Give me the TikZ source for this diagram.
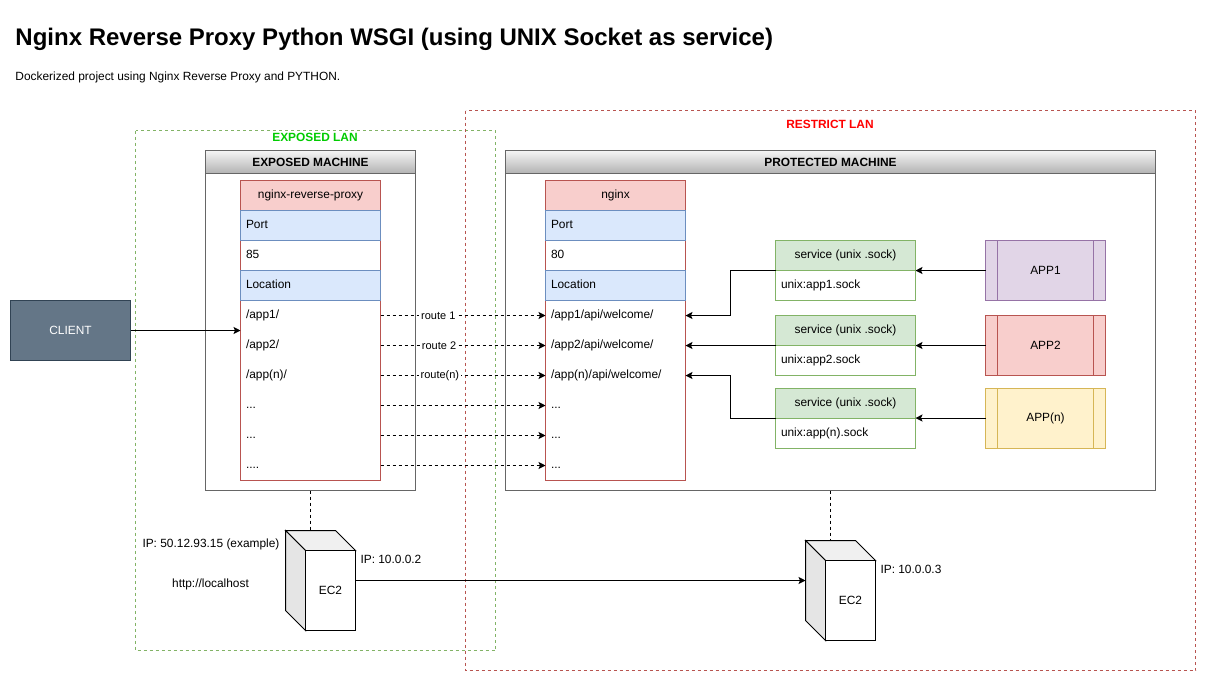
\documentclass[tikz,border=0pt]{standalone}
\usepackage{fontspec}
\setmainfont{Liberation Sans}
\usetikzlibrary{arrows.meta}
\definecolor{redline}{HTML}{B85450}
\definecolor{redfill}{HTML}{F8CECC}
\definecolor{blueline}{HTML}{6C8EBF}
\definecolor{bluefill}{HTML}{DAE8FC}
\definecolor{greenline}{HTML}{82B366}
\definecolor{greenfill}{HTML}{D5E8D4}
\definecolor{purpleline}{HTML}{9673A6}
\definecolor{purplefill}{HTML}{E1D5E7}
\definecolor{yellowline}{HTML}{D6B656}
\definecolor{yellowfill}{HTML}{FFF2CC}
\definecolor{clientline}{HTML}{314354}
\definecolor{clientfill}{HTML}{647687}
\definecolor{machineline}{HTML}{666666}
\tikzset{
	plainfont/.style={font=\fontsize{11.9}{14}\selectfont},
	plaintext/.style={plainfont, inner sep=0pt},
	lantitle/.style={font=\fontsize{11.9}{14}\selectfont\bfseries, inner sep=0pt},
	lanbox/.style={dashed, dash pattern=on 3pt off 3pt},
	machinebox/.style={draw=machineline, fill=white, outer sep=0pt, inner sep=0pt},
	machinehead/.style={draw=machineline, top color=black!4, bottom color=black!30, minimum height=23pt, outer sep=0pt, inner sep=0pt, font=\fontsize{11.9}{14}\selectfont\bfseries},
	tableframe/.style={draw=redline, fill=white, minimum width=140pt, minimum height=300pt, outer sep=0pt, inner sep=0pt},
	tablehead/.style={draw=redline, fill=redfill, minimum width=140pt, minimum height=30pt, outer sep=0pt, inner sep=0pt, plainfont},
	tablerow/.style={text width=129pt, inner xsep=5.5pt, inner ysep=0pt, minimum height=30pt, outer sep=0pt, align=left, text height=9pt, text depth=3pt, plainfont},
	bluerow/.style={tablerow, draw=blueline, fill=bluefill},
	servicehead/.style={draw=greenline, fill=greenfill, minimum width=140pt, minimum height=30pt, outer sep=0pt, inner sep=0pt, plainfont},
	servicerow/.style={tablerow, draw=greenline},
	appbox/.style={minimum width=120pt, minimum height=60pt, outer sep=0pt, inner sep=0pt, text height=9pt, text depth=2pt, plainfont},
	flow/.style={-{Stealth[length=7pt,width=7pt,inset=1.5pt]}, line width=1pt},
	route/.style={flow, dashed, dash pattern=on 3pt off 3pt},
	routelabel/.style={fill=white, inner xsep=2pt, inner ysep=1pt, font=\fontsize{11}{13}\selectfont},
	cubespace/.style={minimum width=70pt, minimum height=100pt, outer sep=0pt, inner sep=0pt},
	cubefront/.style={draw, fill=white, minimum width=50pt, minimum height=80pt, outer sep=0pt, inner sep=0pt, text height=9pt, text depth=2pt, plainfont},
}
\begin{document}
\begin{tikzpicture}[x=1pt, y=-1pt, line width=1pt]
	\useasboundingbox (0,0) rectangle (1206,681);
	\node[anchor=west, inner sep=0pt, font=\fontsize{24}{28}\selectfont\bfseries] (title) at (15,39) {Nginx Reverse Proxy Python WSGI (using UNIX Socket as service)};
	\node[plaintext, anchor=west] (subtitle) at (15,77.5) {Dockerized project using Nginx Reverse Proxy and PYTHON.};
	% the two networks
	\draw[lanbox, draw=greenline] (135.5,130.5) rectangle (495.5,650.5);
	\draw[lanbox, draw=redline] (465.5,110.5) rectangle (1195.5,670.5);
	\node[lantitle, text={rgb,255:red,0;green,204;blue,0}] (exposedlan) at (315,137.5) {EXPOSED LAN};
	\node[lantitle, text=red] (restrictlan) at (830,124.5) {RESTRICT LAN};
	% exposed machine
	\node[machinebox, minimum width=210pt, minimum height=340pt] (exposed) at (310.5,320.5) {};
	\node[machinehead, minimum width=210pt] (exposedhead) at (310.5,162) {EXPOSED MACHINE};
	\node[tableframe] (proxy) at (310.5,330.5) {};
	\node[tablehead] (proxyhead) at (310.5,195.5) {nginx-reverse-proxy};
	\node[bluerow] (proxyport) at (310.5,225.5) {Port};
	\node[tablerow] (proxyportval) at (310.5,255.5) {85};
	\node[bluerow] (proxyloc) at (310.5,285.5) {Location};
	\node[tablerow] (proxyapp1) at (310.5,315.5) {/app1/};
	\node[tablerow] (proxyapp2) at (310.5,345.5) {/app2/};
	\node[tablerow] (proxyappn) at (310.5,375.5) {/app(n)/};
	\node[tablerow] (proxydots1) at (310.5,405.5) {...};
	\node[tablerow] (proxydots2) at (310.5,435.5) {...};
	\node[tablerow] (proxydots3) at (310.5,465.5) {....};
	% protected machine
	\node[machinebox, minimum width=650pt, minimum height=340pt] (protected) at (830.5,320.5) {};
	\node[machinehead, minimum width=650pt] (protectedhead) at (830.5,162) {PROTECTED MACHINE};
	\node[tableframe] (nginx) at (615.5,330.5) {};
	\node[tablehead] (nginxhead) at (615.5,195.5) {nginx};
	\node[bluerow] (nginxport) at (615.5,225.5) {Port};
	\node[tablerow] (nginxportval) at (615.5,255.5) {80};
	\node[bluerow] (nginxloc) at (615.5,285.5) {Location};
	\node[tablerow] (nginxapp1) at (615.5,315.5) {/app1/api/welcome/};
	\node[tablerow] (nginxapp2) at (615.5,345.5) {/app2/api/welcome/};
	\node[tablerow] (nginxappn) at (615.5,375.5) {/app(n)/api/welcome/};
	\node[tablerow] (nginxdots1) at (615.5,405.5) {...};
	\node[tablerow] (nginxdots2) at (615.5,435.5) {...};
	\node[tablerow] (nginxdots3) at (615.5,465.5) {...};
	% services
	\node[servicehead] (svc1) at (845.5,255.5) {service (unix .sock)};
	\node[servicerow] (svc1row) at (845.5,285.5) {unix:app1.sock};
	\node[servicehead] (svc2) at (845.5,330.5) {service (unix .sock)};
	\node[servicerow] (svc2row) at (845.5,360.5) {unix:app2.sock};
	\node[servicehead] (svcn) at (845.5,403) {service (unix .sock)};
	\node[servicerow] (svcnrow) at (845.5,433) {unix:app(n).sock};
	% apps
	\node[appbox, draw=purpleline, fill=purplefill] (app1) at (1045.5,270.5) {APP1};
	\draw[purpleline] ([xshift=12pt]app1.north west) -- ([xshift=12pt]app1.south west);
	\draw[purpleline] ([xshift=-12pt]app1.north east) -- ([xshift=-12pt]app1.south east);
	\node[appbox, draw=redline, fill=redfill] (app2) at (1045.5,345.5) {APP2};
	\draw[redline] ([xshift=12pt]app2.north west) -- ([xshift=12pt]app2.south west);
	\draw[redline] ([xshift=-12pt]app2.north east) -- ([xshift=-12pt]app2.south east);
	\node[appbox, draw=yellowline, fill=yellowfill] (appn) at (1045.5,418) {APP(n)};
	\draw[yellowline] ([xshift=12pt]appn.north west) -- ([xshift=12pt]appn.south west);
	\draw[yellowline] ([xshift=-12pt]appn.north east) -- ([xshift=-12pt]appn.south east);
	% client
	\node[appbox, draw=clientline, fill=clientfill, text=white] (client) at (70.5,330.5) {CLIENT};
	% ec2 boxes
	\node[cubespace] (ec2a) at (320.5,580.5) {};
	\draw[fill=black!6] (ec2a.north west) -- ++(50,0) -- ++(20,20) -- ++(-50,0) -- cycle;
	\draw[fill=black!10] (ec2a.north west) -- ++(20,20) -- ++(0,80) -- ++(-20,-20) -- cycle;
	\node[cubefront] (ec2afront) at (330.5,590.5) {EC2};
	\node[cubespace] (ec2b) at (840.5,590.5) {};
	\draw[fill=black!6] (ec2b.north west) -- ++(50,0) -- ++(20,20) -- ++(-50,0) -- cycle;
	\draw[fill=black!10] (ec2b.north west) -- ++(20,20) -- ++(0,80) -- ++(-20,-20) -- cycle;
	\node[cubefront] (ec2bfront) at (850.5,600.5) {EC2};
	\node[plaintext, anchor=west] (publicip) at (142,544.5) {IP: 50.12.93.15 (example)};
	\node[plaintext] (localhost) at (210.5,584.5) {http://localhost};
	\node[plaintext, anchor=west] (ec2aip) at (360,559.5) {IP: 10.0.0.2};
	\node[plaintext, anchor=west] (ec2bip) at (880,569.5) {IP: 10.0.0.3};
	% connectors
	\draw[flow] (client.east) -- (client.east -| proxy.west);
	\draw[route] (proxyapp1.east) -- node[routelabel, pos=0.35] (route1) {route 1} (nginxapp1.west);
	\draw[route] (proxyapp2.east) -- node[routelabel, pos=0.355] (route2) {route 2} (nginxapp2.west);
	\draw[route] (proxyappn.east) -- node[routelabel, pos=0.36] (routen) {route(n)} (nginxappn.west);
	\draw[route] (proxydots1.east) -- (nginxdots1.west);
	\draw[route] (proxydots2.east) -- (nginxdots2.west);
	\draw[route] (proxydots3.east) -- (nginxdots3.west);
	\draw[flow] (app1.west) -- (svc1.south east);
	\draw[flow] (app2.west) -- (svc2.south east);
	\draw[flow] (appn.west) -- (svcn.south east);
	\draw[flow] (svc1.south west) -- ++(-45,0) |- (nginxapp1.east);
	\draw[flow] (svc2.south west) -- (nginxapp2.east);
	\draw[flow] (svcn.south west) -- ++(-45,0) |- (nginxappn.east);
	\draw[lanbox] (exposed.south) -- (exposed.south |- ec2a.north);
	\draw[lanbox] (protected.south) -- (protected.south |- ec2b.north);
	\draw[flow] (ec2a.east) -- (ec2a.east -| ec2b.west);
\end{tikzpicture}
\end{document}
